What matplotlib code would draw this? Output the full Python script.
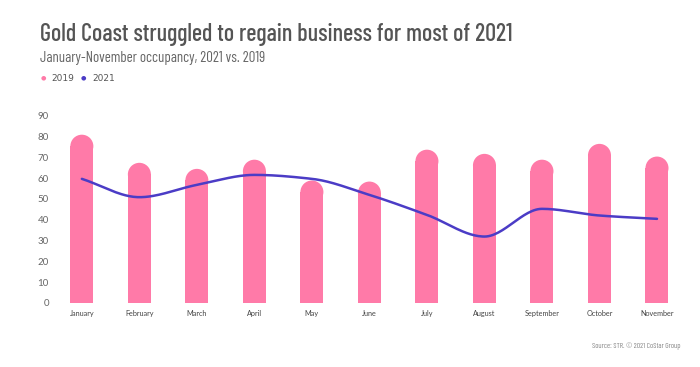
import numpy as np
import matplotlib.pyplot as plt
from matplotlib.patches import Rectangle, Ellipse
from matplotlib import font_manager

months = ['January', 'February', 'March', 'April', 'May', 'June', 'July',
          'August', 'September', 'October', 'November']
occ_2019 = [80.8, 67.3, 64.4, 68.8, 58.8, 58.3, 73.6, 71.6, 68.8, 76.4, 70.3]
occ_2021 = [59.6, 50.8, 56.7, 61.5, 59.6, 51.9, 42.3, 31.9, 45.2, 42.0, 40.4]
yticks = list(range(0, 100, 10))

pink = '#ff7aa8'
blue = '#4b3cc6'

names = {f.name for f in font_manager.fontManager.ttflist}
if 'Barlow Condensed' in names:
    cond, k = 'Barlow Condensed', 1.0
else:
    cond, k = 'Liberation Sans', 0.72


def monotone(x, y, n=30):
    # monotone cubic (Fritsch-Carlson) for a smooth line through the points
    x = np.asarray(x, float)
    y = np.asarray(y, float)
    h = np.diff(x)
    d = np.diff(y) / h
    m = np.zeros_like(y)
    m[0], m[-1] = d[0], d[-1]
    for i in range(1, len(y) - 1):
        if d[i - 1] * d[i] <= 0:
            m[i] = 0
        else:
            w1 = 2 * h[i] + h[i - 1]
            w2 = h[i] + 2 * h[i - 1]
            m[i] = (w1 + w2) / (w1 / d[i - 1] + w2 / d[i])
    xs, ys = [], []
    for i in range(len(x) - 1):
        t = np.linspace(0, 1, n)
        h00 = 2 * t**3 - 3 * t**2 + 1
        h10 = t**3 - 2 * t**2 + t
        h01 = -2 * t**3 + 3 * t**2
        h11 = t**3 - t**2
        xs.append(x[i] + t * h[i])
        ys.append(h00 * y[i] + h10 * h[i] * m[i] + h01 * y[i + 1] + h11 * h[i] * m[i + 1])
    return np.concatenate(xs), np.concatenate(ys)


W, H = 700, 367
fig = plt.figure(figsize=(7, 3.67), dpi=100)
ax_left, ax_right = 60, 680
y0_px, px_per_unit = 303, 2.083
ymax = 95
ax = fig.add_axes([ax_left / W, 1 - y0_px / H, (ax_right - ax_left) / W, ymax * px_per_unit / H])
xmin, xmax = -0.38, 10.4
ax.set_xlim(xmin, xmax)
ax.set_ylim(0, ymax)

# aspect: y data units per x data unit for equal pixel size
xpx = (ax_right - ax_left) / (xmax - xmin)
aspect = xpx / px_per_unit

bw = 0.4
r_y = bw / 2 * aspect
x = np.arange(len(months))
for xi, v in zip(x, occ_2019):
    ax.add_patch(Rectangle((xi - bw / 2, 0), bw, v - r_y, facecolor=pink, edgecolor='none'))
    ax.add_patch(Ellipse((xi, v - r_y), bw, 2 * r_y, facecolor=pink, edgecolor='none'))

sx, sy = monotone(x, occ_2021)
ax.plot(sx, sy, color=blue, lw=1.8, solid_capstyle='round')

for s in ax.spines.values():
    s.set_visible(False)
ax.set_yticks(yticks)
ax.set_yticklabels([str(t) for t in yticks], fontsize=7, color='#666666', family='Lato')
ax.set_xticks(x)
ax.set_xticklabels(months, fontsize=5.2, color='#444444', family='Lato')
ax.tick_params(length=0)
ax.tick_params(axis='y', pad=8)
ax.tick_params(axis='x', pad=5)

fig.text(40 / W, 1 - 40.7 / H, 'Gold Coast struggled to regain business for most of 2021',
         fontsize=17.4 * k, color='#555555', family=cond, weight='medium', va='baseline', ha='left')
fig.text(40 / W, 1 - 61.7 / H, 'January-November occupancy, 2021 vs. 2019',
         fontsize=10.7 * k, color='#666666', family=cond, va='baseline', ha='left')

fig.text(43.3 / W, 1 - 78.3 / H, '\u25cf', fontsize=4.5, color=pink, va='center', ha='center')
fig.text(51.7 / W, 1 - 78.3 / H, '2019', fontsize=6.5, color='#555555', va='center', ha='left')
fig.text(83.3 / W, 1 - 78.3 / H, '\u25cf', fontsize=4.5, color=blue, va='center', ha='center')
fig.text(92.7 / W, 1 - 78.3 / H, '2021', fontsize=6.5, color='#555555', va='center', ha='left')

fig.text(680 / W, 1 - 346 / H, 'Source: STR. \u00a9 2021 CoStar Group',
         fontsize=5.5 * k, color='#888888', family=cond, va='center', ha='right')

fig.savefig('out.png', dpi=100)
